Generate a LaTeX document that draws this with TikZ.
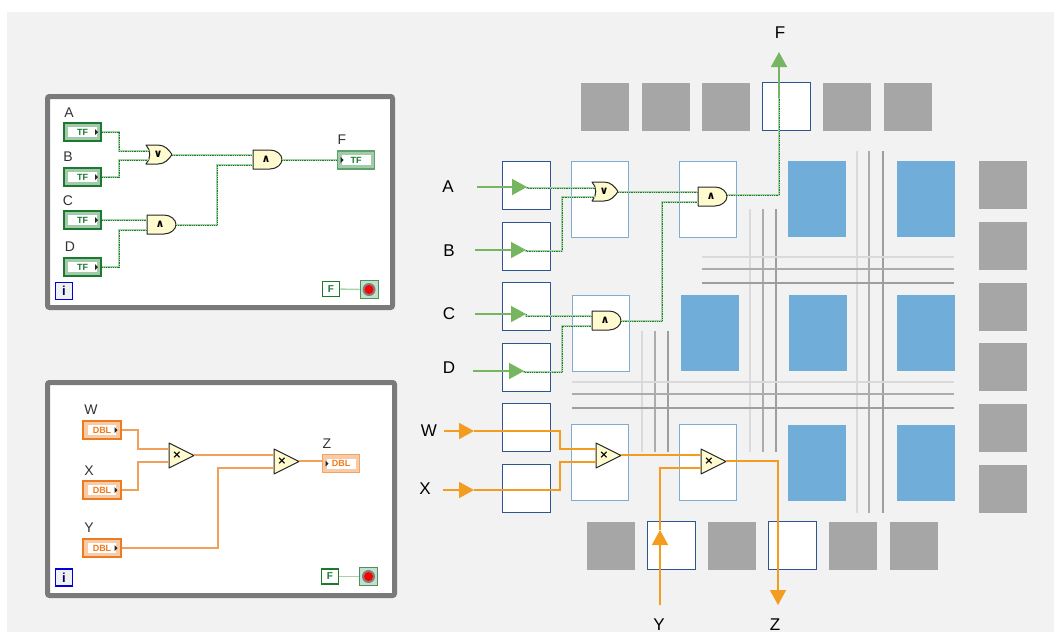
\documentclass[tikz,border=0pt]{standalone}
\usepackage{fontspec}
\setmainfont{Liberation Sans}
\newfontfamily\gatefont{DejaVu Sans}
\usetikzlibrary{arrows.meta}

\definecolor{sheet}{HTML}{F2F2F2}
\definecolor{frame}{HTML}{7A7A7A}
\definecolor{padgray}{HTML}{A6A6A6}
\definecolor{gridA}{HTML}{DADADA}
\definecolor{gridB}{HTML}{ACACAC}
\definecolor{gridC}{HTML}{9E9E9E}
\definecolor{ionavy}{HTML}{2F5590}
\definecolor{clbline}{HTML}{7FADD2}
\definecolor{clbblue}{HTML}{70ADD9}
\definecolor{termgreen}{HTML}{1B7A2F}
\definecolor{termorange}{HTML}{EE7B1F}
\definecolor{boolgreen}{HTML}{A8D3A8}
\definecolor{arrowgreen}{HTML}{76B660}
\definecolor{arroworange}{HTML}{F39C1F}
\definecolor{wireorange}{HTML}{F0A05A}
\definecolor{gateyellow}{HTML}{FFFBCF}

\tikzset{
    panelbox/.style={draw=frame, fill=white, line width=5pt, rounded corners=2pt, inner sep=0pt},
    pad/.style={fill=padgray, minimum width=48pt, minimum height=48pt, inner sep=0pt},
    iobox/.style={draw=ionavy, fill=white, line width=1pt, minimum width=48pt, minimum height=48pt, inner sep=0pt},
    clb/.style={draw=clbline, fill=white, line width=1pt, minimum width=57pt, minimum height=76pt, inner sep=0pt},
    blueblock/.style={fill=clbblue, minimum width=58pt, minimum height=76pt, inner sep=0pt},
    gridline/.style={draw=#1, line width=2.9pt},
    ctrlterm/.style={draw=#1, fill=#1!40, text=#1, line width=1.8pt, minimum width=37.5pt, minimum height=18pt, inner sep=0pt,
        font=\fontsize{9}{9}\selectfont\bfseries,
        path picture={
            \fill[white] ([xshift=-14.5pt,yshift=-5pt]path picture bounding box.center) rectangle ([xshift=14pt,yshift=5pt]path picture bounding box.center);
            \fill[black!85] ([xshift=12.5pt,yshift=-3pt]path picture bounding box.center) -- ([xshift=15.5pt]path picture bounding box.center) -- ([xshift=12.5pt,yshift=3pt]path picture bounding box.center) -- cycle;
        }},
    indterm/.style={draw=#1!70, fill=#1!40, text=#1, line width=1.2pt, minimum width=37.5pt, minimum height=18pt, inner sep=0pt,
        font=\fontsize{9}{9}\selectfont\bfseries,
        path picture={
            \fill[white] ([xshift=-14pt,yshift=-5pt]path picture bounding box.center) rectangle ([xshift=14.5pt,yshift=5pt]path picture bounding box.center);
            \fill[black!85] ([xshift=-15.5pt,yshift=-3pt]path picture bounding box.center) -- ([xshift=-12.5pt]path picture bounding box.center) -- ([xshift=-15.5pt,yshift=3pt]path picture bounding box.center) -- cycle;
        }},
    constbox/.style={draw=termgreen, fill=white, text=termgreen, line width=1.6pt, minimum width=17pt, minimum height=15pt, inner sep=0pt,
        font=\fontsize{10}{10}\selectfont\bfseries},
    infobox/.style={draw=blue!85!black, fill=black!6, text=blue!40!black, line width=1.6pt, minimum width=17pt, minimum height=17pt, inner sep=0pt,
        font=\fontsize{13}{13}\selectfont\bfseries},
    stopbox/.style={draw=termgreen!80, fill=termgreen!25, line width=1pt, minimum width=18pt, minimum height=18pt, inner sep=0pt,
        path picture={\fill[black!50] (path picture bounding box.center) circle (6.5pt);
            \fill[red] (path picture bounding box.center) circle (4.5pt);}},
    gateline/.style={draw=black!85, fill=gateyellow, line width=1pt, line join=round},
    gatetext/.style={inner sep=0pt, font=\fontsize{11}{11}\gatefont\bfseries},
    boolwire/.style={draw=termgreen, dash pattern=on .9pt off .9pt, line width=.8pt,
        preaction={draw=boolgreen, solid, line width=1.9pt}},
    dblwire/.style={draw=wireorange, line width=1.7pt},
    greenarrow/.style={draw=arrowgreen, line width=1.6pt, -{Triangle[length=15pt,width=16pt]}},
    orangearrow/.style={draw=arroworange, line width=1.6pt, -{Triangle[length=15pt,width=16pt]}},
    orangeline/.style={draw=arroworange, line width=1.5pt},
    sidelabel/.style={inner sep=0pt, font=\fontsize{17}{17}\selectfont},
    termlabel/.style={inner sep=0pt, font=\fontsize{14}{14}\selectfont, text=black!80},
}

% 与门
\newcommand{\andgate}[3]{
    \begin{scope}[shift={(#2,#3)}]
        \draw[gateline] (0,0) -- (17,0) .. controls (24,0) and (29,5) .. (29,9.5)
            .. controls (29,14) and (24,19) .. (17,19) -- (0,19) -- cycle;
        \node[gatetext] (#1) at (13,9.5) {∧};
        \coordinate (#1-a) at (0,5);
        \coordinate (#1-b) at (0,15);
        \coordinate (#1-o) at (29,10);
    \end{scope}
}
% 或门
\newcommand{\orgate}[3]{
    \begin{scope}[shift={(#2,#3)}]
        \draw[gateline] (0,0) -- (12,0) .. controls (19,0) and (23,5) .. (26,9.5)
            .. controls (23,14) and (19,19) .. (12,19) -- (0,19)
            .. controls (5,14) and (5,5) .. (0,0) -- cycle;
        \node[gatetext] (#1) at (12,9.5) {∨};
        \coordinate (#1-a) at (3,6);
        \coordinate (#1-b) at (3,15);
        \coordinate (#1-o) at (26,10);
    \end{scope}
}
% 乘法器
\newcommand{\mulgate}[3]{
    \begin{scope}[shift={(#2,#3)}]
        \draw[gateline] (0,0) -- (25,12.5) -- (0,25) -- cycle;
        \node[gatetext] (#1) at (8,12.5) {×};
        \coordinate (#1-a) at (0,6);
        \coordinate (#1-b) at (0,19);
        \coordinate (#1-o) at (25,12);
    \end{scope}
}

\begin{document}
\begin{tikzpicture}[x=1pt, y=-1pt]
    \useasboundingbox (0,0) rectangle (1054,635);
    \fill[sheet] (7,12) rectangle (1054,632);

    % 左侧程序框
    \node[panelbox, minimum width=345pt, minimum height=211pt] (panelBool) at (220,202) {};
    \node[panelbox, minimum width=347pt, minimum height=213pt] (panelDbl) at (221,489) {};

    % 布尔端子
    \node[termlabel] (labA) at (69,113) {A};
    \node[termlabel] (labB) at (68,157) {B};
    \node[termlabel] (labC) at (68,201) {C};
    \node[termlabel] (labD) at (70,247) {D};
    \node[termlabel] (labF) at (342,140) {F};
    \node[ctrlterm=termgreen] (termA) at (82.5,132) {TF};
    \node[ctrlterm=termgreen] (termB) at (82.5,177) {TF};
    \node[ctrlterm=termgreen] (termC) at (82.5,220) {TF};
    \node[ctrlterm=termgreen] (termD) at (82.5,267) {TF};
    \node[indterm=termgreen] (termF) at (356,160) {TF};
    \orgate{orL}{146}{145}
    \andgate{andLa}{253}{150}
    \andgate{andLb}{147}{215}

    % 布尔连线
    \draw[boolwire] (termA.east) -- ++(17,0) |- (orL-a);
    \draw[boolwire] (termB.east) -- ++(17,0) |- (orL-b);
    \draw[boolwire] (termC.east) -- (andLb-a);
    \draw[boolwire] (termD.east) -- ++(17,0) |- (andLb-b);
    \draw[boolwire] (orL-o) -- (andLa-a);
    \draw[boolwire] (andLb-o) -- ++(41,0) |- (andLa-b);
    \draw[boolwire] (andLa-o) -- (termF.west);

    % 数值端子
    \node[termlabel] (labW) at (91,410) {W};
    \node[termlabel] (labX) at (89,471) {X};
    \node[termlabel] (labY) at (89,528) {Y};
    \node[termlabel] (labZ) at (327,444) {Z};
    \node[ctrlterm=termorange] (termW) at (102,430) {DBL};
    \node[ctrlterm=termorange] (termX) at (102,490) {DBL};
    \node[ctrlterm=termorange] (termY) at (102,548) {DBL};
    \node[indterm=termorange] (termZ) at (341,463.5) {DBL};
    \mulgate{mulLa}{169}{443}
    \mulgate{mulLb}{274}{449}

    % 数值连线
    \draw[dblwire] (termW.east) -- ++(16,0) |- (mulLa-a);
    \draw[dblwire] (termX.east) -- ++(16,0) |- (mulLa-b);
    \draw[dblwire] (termY.east) -- ++(96,0) |- (mulLb-b);
    \draw[dblwire] (mulLa-o) -- (mulLb-a);
    \draw[dblwire] (mulLb-o) -- (mulLb-o -| termZ.west);

    % 循环图标
    \node[infobox] (infoBool) at (64,291) {i};
    \node[constbox] (constBool) at (331,289) {F};
    \node[stopbox] (stopBool) at (369,289.5) {};
    \draw[draw=boolgreen, line width=1.4pt] (constBool) -- (stopBool);
    \node[infobox] (infoDbl) at (64,577.5) {i};
    \node[constbox] (constDbl) at (330,576.5) {F};
    \node[stopbox] (stopDbl) at (368.5,576.5) {};
    \draw[draw=boolgreen, line width=1.4pt] (constDbl) -- (stopDbl);

    % 布线通道
    \draw[gridline=gridA] (857,151) -- (857,513);
    \draw[gridline=gridB] (869,151) -- (869,513);
    \draw[gridline=gridC] (883,151) -- (883,513);
    \draw[gridline=gridA] (750,209) -- (750,452);
    \draw[gridline=gridB] (763,209) -- (763,452);
    \draw[gridline=gridC] (776,209) -- (776,452);
    \draw[gridline=gridA] (642,331) -- (642,452);
    \draw[gridline=gridB] (655,331) -- (655,452);
    \draw[gridline=gridC] (668,331) -- (668,452);
    \draw[gridline=gridA] (702,257) -- (954,257);
    \draw[gridline=gridB] (702,269) -- (954,269);
    \draw[gridline=gridC] (702,283) -- (954,283);
    \draw[gridline=gridA] (572,382) -- (954,382);
    \draw[gridline=gridB] (572,394) -- (954,394);
    \draw[gridline=gridC] (572,408) -- (954,408);

    % 顶部引脚
    \node[pad] (padTa) at (605,106.5) {};
    \node[pad] (padTb) at (665.5,106.5) {};
    \node[pad] (padTc) at (725.5,106.5) {};
    \node[iobox] (ioF) at (786,106.5) {};
    \node[pad] (padTd) at (847,106.5) {};
    \node[pad] (padTe) at (907.5,106.5) {};

    % 右侧引脚
    \node[pad] (padRa) at (1003,185) {};
    \node[pad] (padRb) at (1003,246) {};
    \node[pad] (padRc) at (1003,307) {};
    \node[pad] (padRd) at (1003,367) {};
    \node[pad] (padRe) at (1003,428) {};
    \node[pad] (padRf) at (1003,488.5) {};

    % 底部引脚
    \node[pad] (padBa) at (611,545.5) {};
    \node[iobox] (ioY) at (671.5,545.5) {};
    \node[pad] (padBb) at (731.5,545.5) {};
    \node[iobox] (ioZ) at (792.5,545.5) {};
    \node[pad] (padBc) at (853,545.5) {};
    \node[pad] (padBd) at (914,545.5) {};

    % 左侧引脚
    \node[iobox] (ioA) at (526,185) {};
    \node[iobox] (ioB) at (526,246) {};
    \node[iobox] (ioC) at (526,306.5) {};
    \node[iobox] (ioD) at (526,367) {};
    \node[iobox] (ioW) at (526,427.5) {};
    \node[iobox] (ioX) at (526,488.5) {};

    % 逻辑块
    \node[clb] (clbA) at (600,199.5) {};
    \node[clb] (clbB) at (708,199.5) {};
    \node[clb] (clbC) at (601,333.5) {};
    \node[clb] (clbD) at (600,462.5) {};
    \node[clb] (clbE) at (708,462.5) {};
    \node[blueblock] (blueA) at (816.5,199) {};
    \node[blueblock] (blueB) at (926,199) {};
    \node[blueblock] (blueC) at (709.5,333) {};
    \node[blueblock] (blueD) at (817.5,333) {};
    \node[blueblock] (blueE) at (926,333) {};
    \node[blueblock] (blueF) at (816.5,462.5) {};
    \node[blueblock] (blueG) at (926,462.5) {};

    % 外部信号名
    \node[sidelabel] (sigA) at (448,187) {A};
    \node[sidelabel] (sigB) at (449,251) {B};
    \node[sidelabel] (sigC) at (449,314) {C};
    \node[sidelabel] (sigD) at (449,368) {D};
    \node[sidelabel] (sigW) at (429,431) {W};
    \node[sidelabel] (sigX) at (425,489) {X};
    \node[sidelabel] (sigY) at (659,625) {Y};
    \node[sidelabel] (sigZ) at (775,625) {Z};
    \node[sidelabel] (sigF) at (780,33) {F};

    % 门电路
    \orgate{orR}{592}{182}
    \andgate{andRa}{698}{187}
    \andgate{andRb}{592}{311}
    \mulgate{mulRa}{596}{443}
    \mulgate{mulRb}{701}{449}

    % 布尔信号
    \coordinate (inA) at (477,187);
    \coordinate (tipA) at (527,187);
    \coordinate (inB) at (475,250);
    \coordinate (tipB) at (526,250);
    \coordinate (inC) at (475,314);
    \coordinate (tipC) at (526,314);
    \coordinate (inD) at (473,371);
    \coordinate (tipD) at (524,371);
    \coordinate (outF) at (779,98);
    \coordinate (tipF) at (779,52);
    \draw[boolwire] (tipA) |- (orR-a);
    \draw[boolwire] (tipB) |- ++(36,1) |- (orR-b);
    \draw[boolwire] (tipC) |- (andRb-a);
    \draw[boolwire] (tipD) |- ++(38,1) |- (andRb-b);
    \draw[boolwire] (orR-o) -- (andRa-a);
    \draw[boolwire] (andRb-o) -- ++(41,0) |- (andRa-b);
    \draw[boolwire] (andRa-o) ++(0,-2) -| (outF);
    \draw[greenarrow] (outF) -- (tipF);
    \draw[greenarrow] (inA) -- (tipA);
    \draw[greenarrow] (inB) -- (tipB);
    \draw[greenarrow] (inC) -- (tipC);
    \draw[greenarrow] (inD) -- (tipD);

    % 数值信号
    \coordinate (inW) at (444,431);
    \coordinate (tipW) at (474,431);
    \coordinate (inX) at (443,490);
    \coordinate (tipX) at (474,490);
    \coordinate (inY) at (660,605);
    \coordinate (tipY) at (660,530);
    \coordinate (tipZ) at (778,605);
    \draw[orangeline] (tipW) -- ++(86,0) |- (mulRa-a);
    \draw[orangeline] (tipX) -- ++(86,0) |- (mulRa-b);
    \draw[orangeline] (mulRa-o) -- (mulRb-a);
    \draw[orangeline] (tipY) |- (mulRb-b);
    \draw[orangearrow] (mulRb-o) -| (tipZ);
    \draw[orangearrow] (inW) -- (tipW);
    \draw[orangearrow] (inX) -- (tipX);
    \draw[orangearrow] (inY) -- (tipY);
\end{tikzpicture}
\end{document}
